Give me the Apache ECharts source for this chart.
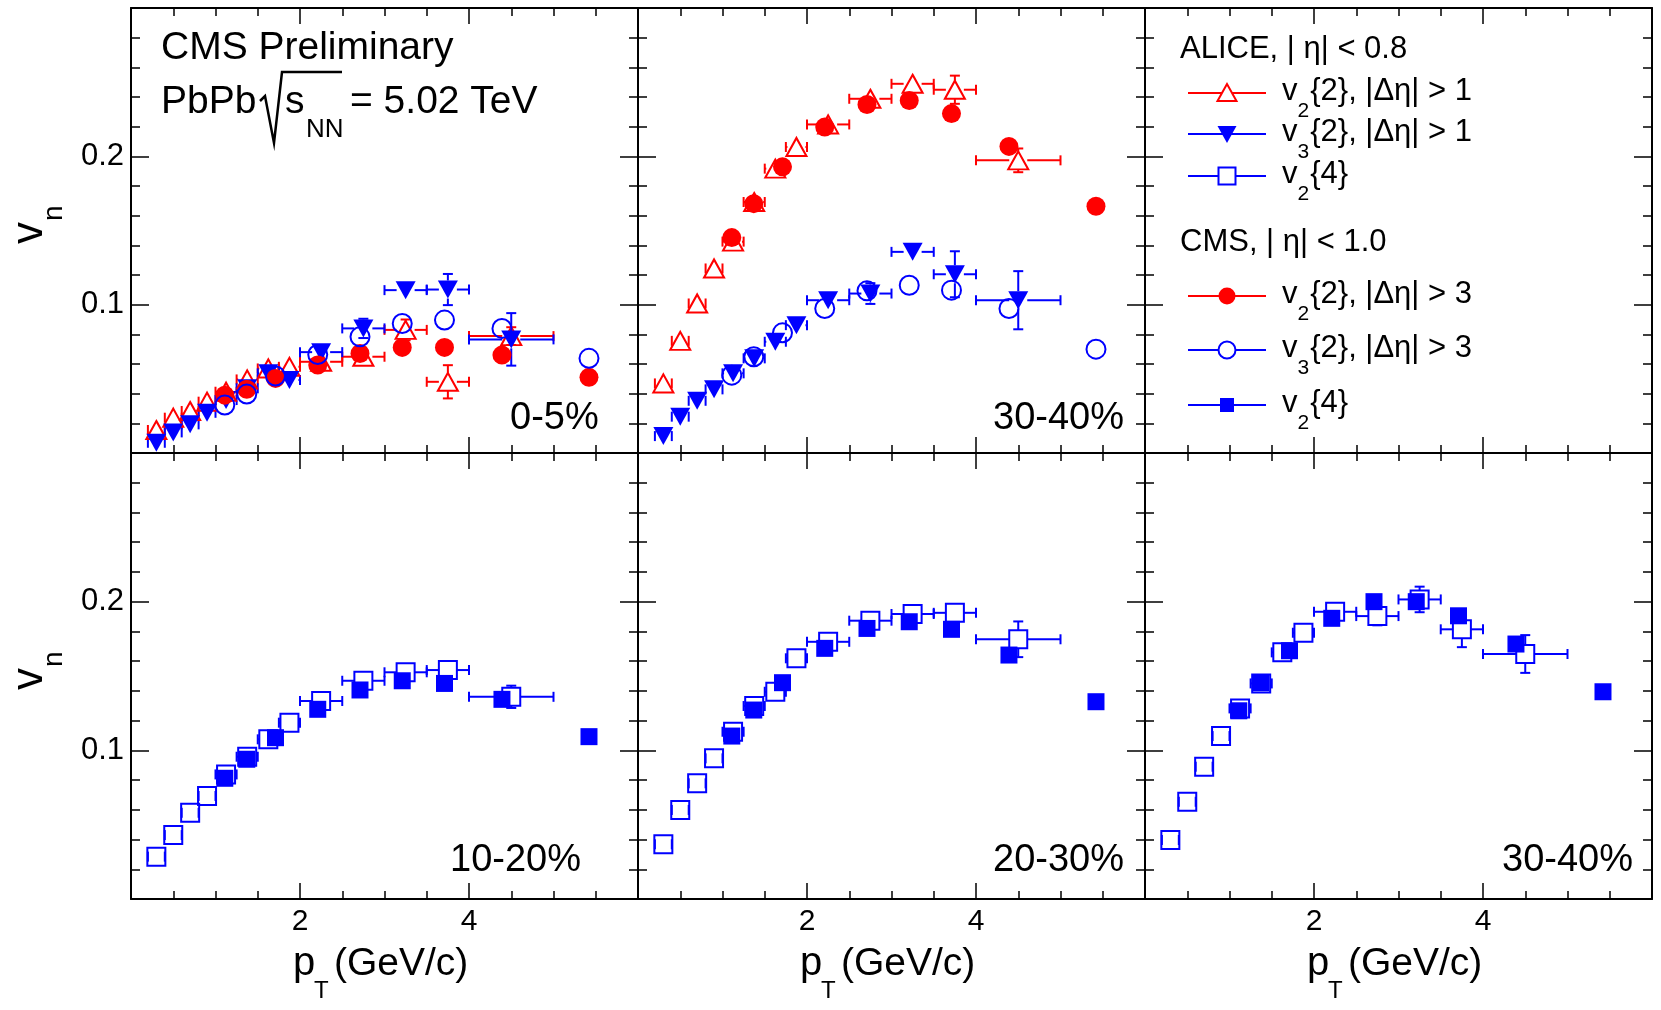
<!DOCTYPE html>
<html><head><meta charset="utf-8">
<script src="https://cdn.jsdelivr.net/npm/echarts@6/dist/echarts.min.js"></script>
<style>html,body{margin:0;padding:0;background:#fff}#c{width:1661px;height:1010px}</style>
</head><body><div id="c"></div>
<script>
// ---------------- data ----------------
const alicePt        = [0.3, 0.5, 0.7, 0.9, 1.125, 1.375, 1.625, 1.875, 2.25, 2.75, 3.25, 3.75, 4.5];
const aliceHalfWidth = [0.1, 0.1, 0.1, 0.1, 0.125, 0.125, 0.125, 0.125, 0.25, 0.25, 0.25, 0.25, 0.5];
const cmsPt          = [1.11, 1.37, 1.71, 2.21, 2.71, 3.21, 3.71, 4.39, 5.42];

// 0-5%
const alice_v22_0_5     = [0.0155, 0.0238, 0.0283, 0.0346, 0.0413, 0.0496, 0.057, 0.0581, 0.0615, 0.0649, 0.083, 0.048, 0.0788];
const alice_v22_0_5_err = [0, 0, 0, 0, 0, 0, 0, 0, 0, 0, 0.007, 0.0112, 0.006];
const alice_v32_0_5     = [0.0069, 0.0139, 0.0193, 0.0271, 0.0357, 0.0436, 0.0537, 0.0492, 0.068, 0.084, 0.1098, 0.1102, 0.0766];
const alice_v32_0_5_err = [0, 0, 0, 0, 0, 0, 0, 0, 0, 0.0065, 0, 0.0105, 0.0177];
const cms_v22_0_5       = [0.039, 0.043, 0.0503, 0.0593, 0.0671, 0.0712, 0.0712, 0.066, 0.051];
const cms_v32_0_5       = [0.0323, 0.0397, 0.0519, 0.0664, 0.0783, 0.0873, 0.0896, 0.084, 0.0638];

// 30-40% (v2{2}, v3{2})
const alice_v22_30_40     = [0.0469, 0.0756, 0.1008, 0.1244, 0.1425, 0.1692, 0.1917, 0.2063, 0.2215, 0.2388, 0.2489, 0.2449, 0.1973];
const alice_v22_30_40_err = [0, 0, 0, 0, 0, 0, 0, 0, 0, 0, 0, 0.0095, 0.008];
const alice_v32_30_40     = [0.0114, 0.0245, 0.0352, 0.0429, 0.0537, 0.0638, 0.075, 0.0862, 0.103, 0.1075, 0.1356, 0.1205, 0.103];
const alice_v32_30_40_err = [0, 0, 0, 0, 0, 0, 0, 0, 0, 0.007, 0, 0.0155, 0.0196];
const cms_v22_30_40       = [0.1452, 0.1681, 0.1929, 0.2197, 0.235, 0.2377, 0.2288, 0.2067, 0.1663];
const cms_v32_30_40       = [0.0525, 0.0649, 0.081, 0.0974, 0.1093, 0.1131, 0.1098, 0.0974, 0.070];

// v2{4}
const alice_v24_10_20     = [0.0285, 0.043, 0.058, 0.0693, 0.0838, 0.0957, 0.1074, 0.1186, 0.1332, 0.1468, 0.1525, 0.154, 0.136];
const alice_v24_10_20_err = [0, 0, 0, 0, 0, 0, 0, 0, 0, 0, 0, 0.0045, 0.0075];
const cms_v24_10_20       = [0.0812, 0.094, 0.1085, 0.1276, 0.1406, 0.1468, 0.145, 0.1343, 0.1092];

const alice_v24_20_30     = [0.0368, 0.0599, 0.0778, 0.0946, 0.1125, 0.1298, 0.1394, 0.1619, 0.173, 0.1872, 0.1917, 0.1925, 0.1747];
const alice_v24_20_30_err = [0, 0, 0, 0, 0, 0, 0, 0, 0, 0, 0, 0, 0.012];
const cms_v24_20_30       = [0.1096, 0.1271, 0.1455, 0.1686, 0.182, 0.1865, 0.1814, 0.1641, 0.1327];

const alice_v24_30_40     = [0.0397, 0.0654, 0.089, 0.1096, 0.1282, 0.145, 0.1659, 0.1791, 0.1932, 0.1903, 0.2015, 0.1814, 0.1648];
const alice_v24_30_40_err = [0, 0, 0, 0, 0, 0, 0, 0, 0, 0.0062, 0.0086, 0.012, 0.0127];
const cms_v24_30_40       = [0.1266, 0.1455, 0.167, 0.1888, 0.2, 0.2, 0.1905, 0.1715, 0.1394];

const xTickLabels = ['2', '4'];
const yTickLabels = ['0.1', '0.2'];
const centralityLabels = ['0-5%', '30-40%', '', '10-20%', '20-30%', '30-40%'];

// ---------------- layout / style ----------------
const FONT = "'Liberation Sans', Arial, Helvetica, sans-serif";
const RED = '#ff0000', BLUE = '#0000ff';
const GL = [131, 638, 1145], GT = [8, 453], GW = 507, GH = [445, 446];

const mctx = document.createElement('canvas').getContext('2d');
function tw(s, fs) { mctx.font = fs + 'px ' + FONT; return mctx.measureText(s).width; }
function T(x, base, s, fs, align) {
  return { type: 'text', x: x, y: base - 0.35 * fs, silent: true, z: 100,
    style: { text: s, font: fs + 'px ' + FONT, fill: '#000', align: align || 'left', verticalAlign: 'middle' } };
}

const MK = {
  triUp:   { symbol: 'triangle', size: [20, 18], rotate: 0,   gap: 9 },
  triDown: { symbol: 'triangle', size: [20, 18], rotate: 180, gap: 9 },
  circle:  { symbol: 'circle',   size: 19, rotate: 0, gap: 10 },
  square:  { symbol: 'rect',     size: 18, rotate: 0, gap: 9 },
  squareF: { symbol: 'rect',     size: 17, rotate: 0, gap: 9 }
};

function errRender(color, gap) {
  return function (params, api) {
    const x = api.value(0), y = api.value(1), ex = api.value(2), ey = api.value(3);
    const c = api.coord([x, y]);
    const kids = [];
    const st = { stroke: color, lineWidth: 2 };
    const cap = 5;
    if (ex > 0) {
      const l = api.coord([x - ex, y])[0], r = api.coord([x + ex, y])[0];
      if (c[0] - l > gap) {
        kids.push({ type: 'line', shape: { x1: l, y1: c[1], x2: c[0] - gap, y2: c[1] }, style: st });
        kids.push({ type: 'line', shape: { x1: c[0] + gap, y1: c[1], x2: r, y2: c[1] }, style: st });
      }
      kids.push({ type: 'line', shape: { x1: l, y1: c[1] - cap, x2: l, y2: c[1] + cap }, style: st });
      kids.push({ type: 'line', shape: { x1: r, y1: c[1] - cap, x2: r, y2: c[1] + cap }, style: st });
    }
    if (ey > 0) {
      const t = api.coord([x, y + ey])[1], b = api.coord([x, y - ey])[1];
      if (c[1] - t > gap - 1) {
        kids.push({ type: 'line', shape: { x1: c[0], y1: t, x2: c[0], y2: c[1] - gap }, style: st });
        kids.push({ type: 'line', shape: { x1: c[0], y1: c[1] + gap, x2: c[0], y2: b }, style: st });
        kids.push({ type: 'line', shape: { x1: c[0] - cap, y1: t, x2: c[0] + cap, y2: t }, style: st });
        kids.push({ type: 'line', shape: { x1: c[0] - cap, y1: b, x2: c[0] + cap, y2: b }, style: st });
      }
    }
    return { type: 'group', children: kids };
  };
}

const grids = [], xAxes = [], yAxes = [], series = [];
function near(a, b) { return Math.abs(a - b) < 1e-9; }
function makeX(g, pos, showLabel) {
  return { type: 'value', gridIndex: g, position: pos, min: 0, max: 6, interval: 2,
    axisLine: { show: true, onZero: false, lineStyle: { color: '#000', width: 2 } },
    axisTick: { show: true, inside: true, length: 16, lineStyle: { color: '#000', width: 1.5 } },
    minorTick: { show: true, splitNumber: 4, length: 8, lineStyle: { color: '#000', width: 1.5 } },
    splitLine: { show: false }, minorSplitLine: { show: false },
    axisLabel: { show: showLabel, color: '#000', fontFamily: FONT, fontSize: 30, margin: 8,
      formatter: v => { const s = String(v); return xTickLabels.indexOf(s) >= 0 ? s : ''; } } };
}
function makeY(g, pos, showLabel) {
  return { type: 'value', gridIndex: g, position: pos, min: 0, max: 0.3, interval: 0.1,
    axisLine: { show: true, onZero: false, lineStyle: { color: '#000', width: 2 } },
    axisTick: { show: true, inside: true, length: 18, lineStyle: { color: '#000', width: 1.5 } },
    minorTick: { show: true, splitNumber: 5, length: 9, lineStyle: { color: '#000', width: 1.5 } },
    splitLine: { show: false }, minorSplitLine: { show: false },
    axisLabel: { show: showLabel, color: '#000', fontFamily: FONT, fontSize: 31, margin: 7,
      formatter: v => { const s = (Math.round(v * 10) / 10).toFixed(1); return (yTickLabels.indexOf(s) >= 0 && near(v, +s)) ? s : ''; } } };
}

let g = 0;
for (let r = 0; r < 2; r++) {
  for (let c = 0; c < 3; c++) {
    grids.push({ left: GL[c], top: GT[r], width: GW, height: GH[r], show: false });
    xAxes.push(makeX(g, 'bottom', r === 1));
    xAxes.push(makeX(g, 'top', false));
    yAxes.push(makeY(g, 'left', c === 0));
    yAxes.push(makeY(g, 'right', false));
    g++;
  }
}

function addSet(gi, name, xs, ys, exs, eys, mk, color, filled) {
  const m = MK[mk];
  if (exs || eys) {
    series.push({ type: 'custom', name: name + ' err', xAxisIndex: 2 * gi, yAxisIndex: 2 * gi, silent: true,
      renderItem: errRender(color, m.gap),
      data: xs.map((x, i) => [x, ys[i], exs ? exs[i] : 0, eys ? eys[i] : 0]) });
  }
  series.push({ type: 'scatter', name: name, xAxisIndex: 2 * gi, yAxisIndex: 2 * gi, silent: true,
    symbol: m.symbol, symbolSize: m.size, symbolRotate: m.rotate,
    itemStyle: { color: filled ? color : 'rgba(255,255,255,0)', borderColor: color, borderWidth: filled ? 0 : 2, opacity: 1 },
    data: xs.map((x, i) => [x, ys[i]]) });
}

// panel 0 : 0-5%
addSet(0, 'ALICE v2{2}', alicePt, alice_v22_0_5, aliceHalfWidth, alice_v22_0_5_err, 'triUp', RED, false);
addSet(0, 'ALICE v3{2}', alicePt, alice_v32_0_5, aliceHalfWidth, alice_v32_0_5_err, 'triDown', BLUE, true);
addSet(0, 'CMS v2{2}', cmsPt, cms_v22_0_5, null, null, 'circle', RED, true);
addSet(0, 'CMS v3{2}', cmsPt, cms_v32_0_5, null, null, 'circle', BLUE, false);
// panel 1 : 30-40%
addSet(1, 'ALICE v2{2}', alicePt, alice_v22_30_40, aliceHalfWidth, alice_v22_30_40_err, 'triUp', RED, false);
addSet(1, 'ALICE v3{2}', alicePt, alice_v32_30_40, aliceHalfWidth, alice_v32_30_40_err, 'triDown', BLUE, true);
addSet(1, 'CMS v2{2}', cmsPt, cms_v22_30_40, null, null, 'circle', RED, true);
addSet(1, 'CMS v3{2}', cmsPt, cms_v32_30_40, null, null, 'circle', BLUE, false);
// panel 3,4,5 : v2{4}
addSet(3, 'ALICE v2{4}', alicePt, alice_v24_10_20, aliceHalfWidth, alice_v24_10_20_err, 'square', BLUE, false);
addSet(3, 'CMS v2{4}', cmsPt, cms_v24_10_20, null, null, 'squareF', BLUE, true);
addSet(4, 'ALICE v2{4}', alicePt, alice_v24_20_30, aliceHalfWidth, alice_v24_20_30_err, 'square', BLUE, false);
addSet(4, 'CMS v2{4}', cmsPt, cms_v24_20_30, null, null, 'squareF', BLUE, true);
addSet(5, 'ALICE v2{4}', alicePt, alice_v24_30_40, aliceHalfWidth, alice_v24_30_40_err, 'square', BLUE, false);
addSet(5, 'CMS v2{4}', cmsPt, cms_v24_30_40, null, null, 'squareF', BLUE, true);

// ---------------- graphic texts / legend ----------------
const gr = [];
// CMS label
gr.push(T(161, 62, 'CMS Preliminary', 39));
gr.push(T(161, 116, 'PbPb', 39));
gr.push({ type: 'polyline', silent: true, z: 100, shape: { points: [[260, 101], [265, 96], [274, 143], [282, 72], [342, 72]] },
  style: { stroke: '#000', lineWidth: 2.5, fill: null } });
gr.push(T(285, 116, 's', 39));
gr.push(T(306, 139, 'NN', 26));
gr.push(T(350, 116, '= 5.02 TeV', 39));

// centrality labels
const cenPos = [[510, 432], [993, 432], null, [450, 874], [993, 874], [1502, 874]];
centralityLabels.forEach((s, i) => { if (s) gr.push(T(cenPos[i][0], cenPos[i][1], s, 38)); });

// x-axis titles
for (let c = 0; c < 3; c++) {
  const dx = GW * c;
  gr.push(T(293 + dx, 978, 'p', 40));
  gr.push(T(314 + dx, 1000, 'T', 24));
  gr.push(T(334 + dx, 978, '(GeV/c)', 39));
}
// y-axis titles (rotated)
[244, 690].forEach(yb => {
  gr.push({ type: 'group', x: 45, y: yb, rotation: Math.PI / 2, silent: true, z: 100,
    children: [T(0, 0, 'v', 44), T(tw('v', 44) + 1, 19, 'n', 28)] });
});

// legend
function legMarker(type, cx, cy, color, filled) {
  const st = { fill: filled ? color : '#fff', stroke: color, lineWidth: filled ? 0 : 2 };
  if (type === 'circle') return { type: 'circle', z: 101, silent: true, shape: { cx, cy, r: 8.5 }, style: st };
  if (type === 'triUp') return { type: 'polygon', z: 101, silent: true, shape: { points: [[cx, cy - 9], [cx - 9.5, cy + 8], [cx + 9.5, cy + 8]] }, style: st };
  if (type === 'triDown') return { type: 'polygon', z: 101, silent: true, shape: { points: [[cx, cy + 9], [cx - 9.5, cy - 8], [cx + 9.5, cy - 8]] }, style: st };
  if (type === 'square') return { type: 'rect', z: 101, silent: true, shape: { x: cx - 8.5, y: cy - 8.5, width: 17, height: 17 }, style: st };
  return { type: 'rect', z: 101, silent: true, shape: { x: cx - 7, y: cy - 7, width: 14, height: 14 }, style: st };
}
function legEntry(y, type, color, filled, sub, rest) {
  gr.push({ type: 'line', z: 100, silent: true, shape: { x1: 1188, y1: y, x2: 1266, y2: y }, style: { stroke: color, lineWidth: 2 } });
  gr.push(legMarker(type, 1227, y, color, filled));
  const x0 = 1282;
  gr.push(T(x0, y + 9, 'v', 31));
  const wv = tw('v', 31);
  gr.push(T(x0 + wv, y + 26, sub, 21));
  gr.push(T(x0 + wv + tw(sub, 21) + 1, y + 9, rest, 31));
}
gr.push(T(1180, 60, 'ALICE, | η| < 0.8', 31));
legEntry(93, 'triUp', RED, false, '2', '{2}, |Δη| > 1');
legEntry(134, 'triDown', BLUE, true, '3', '{2}, |Δη| > 1');
legEntry(176, 'square', BLUE, false, '2', '{4}');
gr.push(T(1180, 253, 'CMS, | η| < 1.0', 31));
legEntry(296, 'circle', RED, true, '2', '{2}, |Δη| > 3');
legEntry(350, 'circle', BLUE, false, '3', '{2}, |Δη| > 3');
legEntry(405, 'squareF', BLUE, true, '2', '{4}');

const chart = echarts.init(document.getElementById('c'), null, { renderer: 'canvas' });
chart.setOption({
  animation: false,
  backgroundColor: '#fff',
  grid: grids, xAxis: xAxes, yAxis: yAxes, series: series, graphic: gr
});
</script>
</body></html>
